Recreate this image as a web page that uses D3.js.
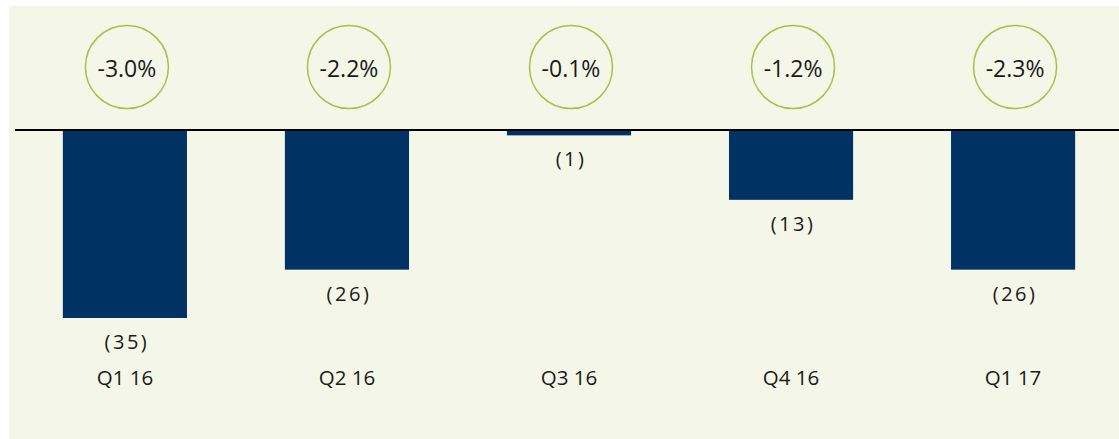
<!DOCTYPE html>
<html lang="en">
  <head>
    <meta charset="UTF-8" />
    <title>Quarterly change</title>
    <style>
        body { margin: 0; background: #fff; }
        text { font-family: "Open Sans", "Noto Sans", sans-serif; font-weight: 370; fill: #1a1a1a; }
        .pct { font-size: 23px; }
        .val { font-size: 20px; letter-spacing: 2.5px; }
        .cat { font-size: 20.5px; }
    </style>
    <script src="https://d3js.org/d3.v7.min.js"></script>
  </head>
  <body>
    <div id="chart"></div>
    <script>
        const quarters = ["Q1 16", "Q2 16", "Q3 16", "Q4 16", "Q1 17"];
        const values = [-35, -26, -1, -13, -26];
        const valueLabels = ["(35)", "(26)", "(1)", "(13)", "(26)"];
        const pctLabels = ["-3.0%", "-2.2%", "-0.1%", "-1.2%", "-2.3%"];

        const width = 1119;
        const height = 439;

        const svg = d3.select("#chart")
                    .append("svg")
                    .attr("width", width)
                    .attr("height", height);

        // panel background
        svg.append("rect")
            .attr("x", 9).attr("y", 6)
            .attr("width", width - 9).attr("height", height - 6)
            .attr("fill", "#f4f6e8");

        const scaleX = d3.scaleBand()
                        .domain(quarters)
                        .range([14, 1124])
                        .paddingInner(0.441)
                        .paddingOuter(0.22);
        const scaleY = d3.scaleLinear().domain([0, -35]).range([130, 318]);

        const g = svg.append("g");

        g.selectAll("rect.bar")
            .data(values)
            .join("rect")
            .attr("class", "bar")
            .attr("x", (d, i) => scaleX(quarters[i]))
            .attr("y", scaleY(0))
            .attr("width", scaleX.bandwidth())
            .attr("height", d => scaleY(d) - scaleY(0))
            .attr("fill", "#003363");

        // zero line
        svg.append("line")
            .attr("x1", 15).attr("x2", width)
            .attr("y1", scaleY(0)).attr("y2", scaleY(0))
            .attr("stroke", "#000")
            .attr("stroke-width", 2);

        const cx = (i) => scaleX(quarters[i]) + scaleX.bandwidth() / 2;

        g.selectAll("text.val")
            .data(valueLabels)
            .join("text")
            .attr("class", "val")
            .attr("x", (d, i) => cx(i) + 2)
            .attr("y", (d, i) => scaleY(values[i]) + 31)
            .attr("text-anchor", "middle")
            .text(d => d);

        g.selectAll("text.cat")
            .data(quarters)
            .join("text")
            .attr("class", "cat")
            .attr("x", (d, i) => cx(i))
            .attr("y", 385)
            .attr("text-anchor", "middle")
            .text(d => d);

        const gc = svg.append("g");
        gc.selectAll("circle")
            .data(pctLabels)
            .join("circle")
            .attr("cx", (d, i) => cx(i) + 2)
            .attr("cy", 67)
            .attr("r", 41.5)
            .attr("fill", "none")
            .attr("stroke", "#a6c04a")
            .attr("stroke-width", 1.5);
        gc.selectAll("text")
            .data(pctLabels)
            .join("text")
            .attr("class", "pct")
            .attr("x", (d, i) => cx(i) + 2)
            .attr("y", 77)
            .attr("text-anchor", "middle")
            .text(d => d);
    </script>
  </body>
</html>
